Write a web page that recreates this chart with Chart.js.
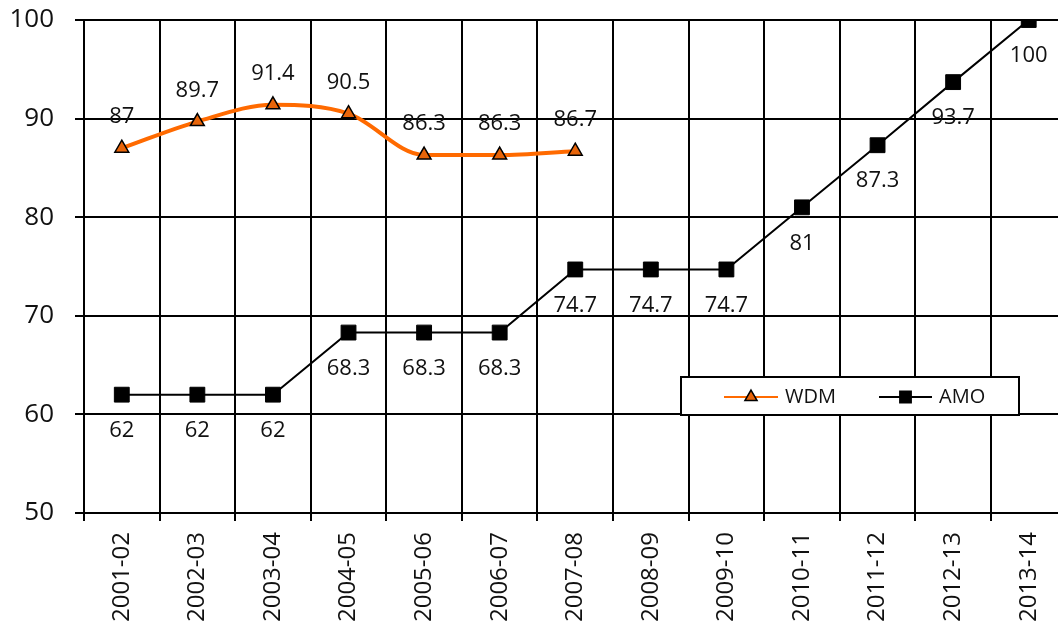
<!DOCTYPE html>
<html>
<head>
<meta charset="utf-8">
<script src="https://cdn.jsdelivr.net/npm/chart.js@4"></script>
<style>
  html, body { margin: 0; padding: 0; background: #fff; overflow: hidden; }
  #c { display: block; }
</style>
</head>
<body>
<canvas id="c" width="1078" height="624" style="width:1078px;height:624px"></canvas>
<script>
const categories = ['2001-02','2002-03','2003-04','2004-05','2005-06','2006-07','2007-08','2008-09','2009-10','2010-11','2011-12','2012-13','2013-14'];
const wdmValues = [87, 89.7, 91.4, 90.5, 86.3, 86.3, 86.7, null, null, null, null, null, null];
const amoValues = [62, 62, 62, 68.3, 68.3, 68.3, 74.7, 74.7, 74.7, 81, 87.3, 93.7, 100];
const yTicks = [50, 60, 70, 80, 90, 100];

const FONT = '"Open Sans", "Noto Sans", sans-serif';

const dataLabels = {
  id: 'dataLabels',
  afterDatasetsDraw(chart) {
    const ctx = chart.ctx;
    ctx.save();
    ctx.font = '22px ' + FONT;
    ctx.fillStyle = '#111';
    ctx.textAlign = 'center';
    ctx.textBaseline = 'middle';
    chart.data.datasets.forEach((ds, i) => {
      const meta = chart.getDatasetMeta(i);
      const off = ds.labelOffset;
      meta.data.forEach((pt, j) => {
        const v = ds.data[j];
        if (v === null || v === undefined) return;
        ctx.fillText(String(v), pt.x, pt.y + off);
      });
    });
    ctx.restore();
  }
};

const boxLegend = {
  id: 'boxLegend',
  afterDraw(chart) {
    const ctx = chart.ctx;
    const bx = 681, by = 377, bw = 338, bh = 38;
    ctx.save();
    ctx.fillStyle = '#fff';
    ctx.fillRect(bx, by, bw, bh);
    ctx.lineWidth = 2;
    ctx.strokeStyle = '#000';
    ctx.strokeRect(bx, by, bw, bh);
    const cy = by + bh / 2 + 1;
    const items = [
      { ds: 0, x0: 724, x1: 778, tx: 785 },
      { ds: 1, x0: 879, x1: 932, tx: 939 }
    ];
    items.forEach(it => {
      const ds = chart.data.datasets[it.ds];
      ctx.strokeStyle = ds.borderColor;
      ctx.lineWidth = 2;
      ctx.beginPath();
      ctx.moveTo(it.x0, cy);
      ctx.lineTo(it.x1, cy);
      ctx.stroke();
      ctx.fillStyle = ds.pointBackgroundColor;
      ctx.strokeStyle = ds.pointBorderColor;
      ctx.lineWidth = 1.5;
      Chart.helpers.drawPoint(ctx, {
        pointStyle: ds.pointStyle,
        radius: ds.pointStyle === 'rect' ? 8 : 7,
        borderWidth: 1.5
      }, (it.x0 + it.x1) / 2, cy);
      ctx.fillStyle = '#111';
      ctx.font = '20px ' + FONT;
      ctx.textAlign = 'left';
      ctx.textBaseline = 'middle';
      ctx.fillText(ds.label, it.tx, cy);
    });
    ctx.restore();
  }
};

new Chart(document.getElementById('c'), {
  type: 'line',
  data: {
    labels: categories,
    datasets: [
      {
        label: 'WDM',
        data: wdmValues,
        borderColor: '#ff6a00',
        borderWidth: 4,
        pointStyle: 'triangle',
        pointRadius: 8,
        pointHoverRadius: 8,
        pointBackgroundColor: '#e8650a',
        pointBorderColor: '#000',
        pointBorderWidth: 1.5,
        cubicInterpolationMode: 'monotone',
        spanGaps: false,
        labelOffset: -31,
        order: 1
      },
      {
        label: 'AMO',
        data: amoValues,
        borderColor: '#000',
        borderWidth: 2,
        pointStyle: 'rect',
        pointRadius: 10.5,
        pointHoverRadius: 10.5,
        pointBackgroundColor: '#000',
        pointBorderColor: '#000',
        pointBorderWidth: 1,
        tension: 0,
        labelOffset: 36,
        order: 2
      }
    ]
  },
  options: {
    responsive: false,
    maintainAspectRatio: false,
    devicePixelRatio: 1,
    animation: false,
    events: [],
    layout: { padding: { top: 20, right: 4.5, left: 0, bottom: 0 } },
    plugins: {
      legend: { display: false },
      tooltip: { enabled: false }
    },
    scales: {
      x: {
        type: 'category',
        offset: true,
        grid: {
          offset: true,
          color: '#000',
          lineWidth: 2,
          tickLength: 8,
          drawTicks: true
        },
        border: { color: '#000', width: 2 },
        ticks: {
          color: '#111',
          font: { family: FONT, size: 24 },
          minRotation: 90,
          maxRotation: 90,
          padding: 11,
          autoSkip: false
        },
        afterFit(scale) {
          scale.height = 111;
          scale.paddingLeft = 0; scale.paddingRight = 0;
          scale.paddingTop = 0; scale.paddingBottom = 0;
        }
      },
      y: {
        min: 50,
        max: 100,
        afterBuildTicks(scale) { scale.ticks = yTicks.map(v => ({ value: v })); },
        grid: {
          color: '#000',
          lineWidth: 2,
          tickLength: 9
        },
        border: { color: '#000', width: 2 },
        ticks: {
          color: '#111',
          font: { family: FONT, size: 26 },
          padding: 21
        },
        afterFit(scale) {
          scale.width = 84;
          scale.paddingTop = 0; scale.paddingBottom = 0;
          scale.paddingLeft = 0; scale.paddingRight = 0;
        }
      }
    }
  },
  plugins: [dataLabels, boxLegend]
});
</script>
</body>
</html>
